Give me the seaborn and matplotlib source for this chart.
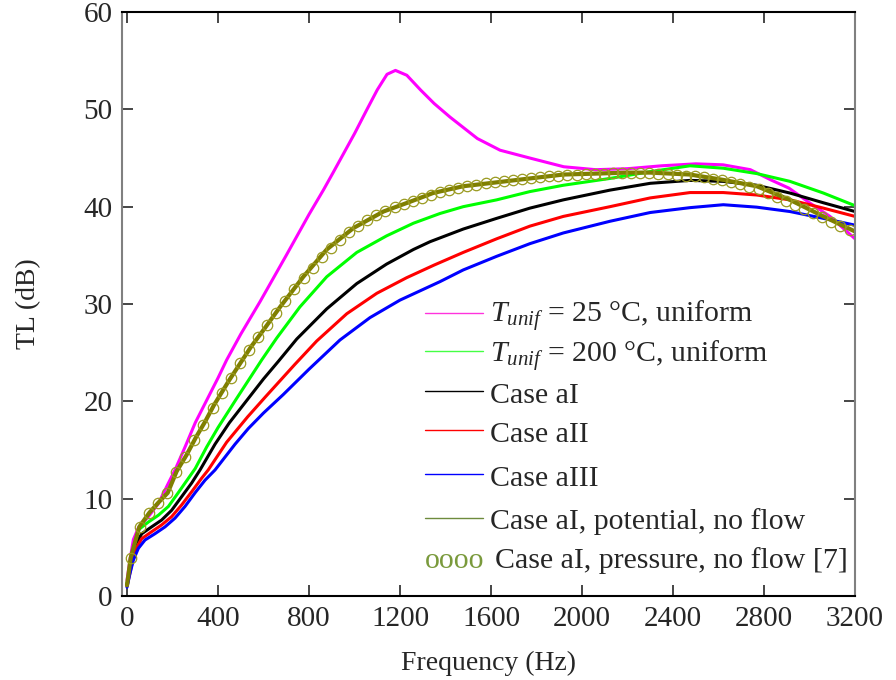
"""Transmission loss vs frequency, several temperature cases."""
import numpy as np
import matplotlib
matplotlib.use('Agg')
import matplotlib.pyplot as plt
import seaborn as sns

# T_unif = 25 C, uniform
PINK_F = [0, 13, 28, 50, 94, 138, 182, 211, 255, 300, 350, 400, 438, 500, 585, 700, 800,
          863, 906, 1000, 1055, 1100, 1143, 1180, 1230, 1290, 1350, 1420, 1540, 1640, 1770,
          1920, 2060, 2200, 2350, 2500, 2620, 2740, 2830, 2910, 3000, 3090, 3200]
PINK_TL = [1.6, 3.7, 5.8, 7.0, 8.15, 9.5, 11.6, 12.95, 15.3, 17.8, 20.1, 22.4, 24.25, 26.9,
           30.25, 35.0, 39.2, 41.7, 43.5, 47.5, 50.0, 52.0, 53.6, 54.0, 53.5, 52.0, 50.6,
           49.2, 47.0, 45.8, 45.0, 44.1, 43.8, 43.9, 44.2, 44.4, 44.3, 43.8, 42.75, 41.9,
           40.4, 39.0, 36.7]

# T_unif = 200 C, uniform
GREEN_F = [0, 20, 50, 94, 138, 182, 225, 270, 300, 350, 400, 482, 592, 658, 760, 878, 1010,
           1141, 1259, 1376, 1478, 1625, 1771, 1918, 2123, 2300, 2475, 2621, 2768, 2914,
           3061, 3200]
GREEN_TL = [1.3, 3.7, 6.8, 7.6, 8.3, 9.2, 10.6, 12.1, 13.1, 15.3, 17.3, 20.3, 24.25, 26.5,
            29.7, 32.8, 35.3, 37.0, 38.3, 39.3, 40.0, 40.7, 41.55, 42.2, 42.9, 43.6, 44.2,
            43.95, 43.4, 42.6, 41.4, 40.1]

# Case aI
BLACK_F = [0, 35, 65, 108, 152, 196, 240, 284, 321, 387, 450, 530, 600, 665, 746, 878, 1010,
           1141, 1259, 1332, 1478, 1625, 1771, 1918, 2123, 2300, 2475, 2621, 2768, 2914,
           3061, 3200]
BLACK_TL = [1.2, 5.2, 6.4, 7.1, 7.8, 8.8, 10.2, 11.6, 12.95, 15.6, 17.8, 20.2, 22.3, 24.1,
            26.4, 29.5, 32.1, 34.1, 35.6, 36.4, 37.7, 38.8, 39.85, 40.7, 41.7, 42.4, 42.7,
            42.6, 42.2, 41.4, 40.4, 39.5]

# Case aII
RED_F = [0, 35, 65, 108, 152, 196, 240, 284, 328, 357, 438, 530, 610, 738, 834, 966, 1098,
         1229, 1350, 1478, 1625, 1771, 1918, 2123, 2300, 2475, 2621, 2768, 2914, 3061, 3200]
RED_TL = [1.0, 4.7, 5.9, 6.6, 7.3, 8.15, 9.35, 10.7, 12.1, 12.95, 15.8, 18.4, 20.5, 23.8,
          26.2, 29.0, 31.1, 32.7, 34.0, 35.3, 36.7, 38.0, 39.0, 40.0, 40.9, 41.45, 41.45,
          41.2, 40.7, 39.85, 39.0]

# Case aIII
BLUE_F = [0, 13, 28, 50, 79, 123, 167, 211, 255, 299, 343, 387, 475, 533, 600, 687, 800, 936,
          1068, 1200, 1376, 1478, 1625, 1771, 1918, 2123, 2300, 2475, 2621, 2768, 2914,
          3061, 3200]
BLUE_TL = [0.9, 2.3, 3.7, 4.9, 5.75, 6.4, 7.1, 8.0, 9.2, 10.6, 11.9, 12.95, 15.6, 17.2, 18.8,
           20.7, 23.3, 26.3, 28.6, 30.4, 32.3, 33.5, 34.9, 36.2, 37.3, 38.5, 39.4, 39.9,
           40.2, 39.95, 39.5, 38.8, 38.1]

# Case aI, potential, no flow
OLIVE_F = [0, 16, 54, 98, 138, 179, 218, 262, 303, 343, 382, 450, 545, 599, 673, 775, 878,
           995, 1127, 1244, 1345, 1478, 1625, 1771, 1918, 2064, 2200, 2300, 2475, 2621,
           2768, 2914, 3061, 3200]
OLIVE_TL = [1.1, 3.9, 7.1, 8.55, 9.6, 10.6, 12.8, 14.5, 16.3, 17.9, 19.6, 22.2, 25.6, 27.3,
            29.7, 32.8, 35.6, 37.8, 39.5, 40.5, 41.4, 42.1, 42.5, 42.9, 43.3, 43.4, 43.5,
            43.5, 43.3, 42.75, 42.1, 40.7, 39.0, 37.45]

# Case aI, pressure, no flow [7] (open circles, every 40 Hz)
PRESS_F = np.arange(16, 3200, 40)
PRESS_TL = [3.9, 7.1, 8.5, 9.6, 10.6, 12.7, 14.3, 16.0, 17.6, 19.3,
            20.9, 22.4, 23.9, 25.3, 26.6, 27.8, 29.1, 30.3, 31.5, 32.7,
            33.7, 34.8, 35.8, 36.6, 37.4, 38.0, 38.6, 39.1, 39.6, 40.0,
            40.3, 40.6, 40.9, 41.2, 41.5, 41.7, 41.9, 42.1, 42.2, 42.4,
            42.5, 42.6, 42.7, 42.8, 42.9, 43.0, 43.1, 43.2, 43.3, 43.3,
            43.4, 43.4, 43.4, 43.5, 43.5, 43.5, 43.5, 43.5, 43.4, 43.4,
            43.3, 43.2, 43.1, 43.0, 42.8, 42.7, 42.5, 42.3, 42.0, 41.8,
            41.4, 41.0, 40.6, 40.2, 39.8, 39.3, 38.9, 38.4, 38.0, 37.6]

LABELS = [r'$T_{unif}$ = 25 °C, uniform', r'$T_{unif}$ = 200 °C, uniform', 'Case aI',
          'Case aII', 'Case aIII', 'Case aI, potential, no flow']
COLORS = ['#ff00ff', '#00ff00', 'black', '#ff0000', '#0000ff', '#7f7f00']
HANDLE_COLORS = ['#ff33dd', '#44ff44', 'black', '#ff0000', '#0000ff', '#6e8b3d']
WIDTHS = [2.2, 2.2, 2.2, 2.2, 2.2, 3.0]

# legend rows in pixels: line height and text baseline
ROW_LINE_Y = [313, 351, 391, 430, 474, 518]
ROW_BASE_Y = [323, 363, 403, 442, 486, 529]

W, H = 896, 680

sns.set_style('ticks')
plt.rcParams['font.family'] = ['Liberation Serif', 'DejaVu Serif']
plt.rcParams['mathtext.fontset'] = 'custom'
plt.rcParams['mathtext.it'] = 'Liberation Serif:italic'
plt.rcParams['mathtext.rm'] = 'Liberation Serif'

fig = plt.figure(figsize=(W / 100, H / 100), dpi=100)
ax = fig.add_axes([122 / W, 84 / H, 733 / W, 584 / H])

series = [(PINK_F, PINK_TL), (GREEN_F, GREEN_TL), (BLACK_F, BLACK_TL),
          (RED_F, RED_TL), (BLUE_F, BLUE_TL), (OLIVE_F, OLIVE_TL)]
for (f, tl), col, lw in zip(series, COLORS, WIDTHS):
    sns.lineplot(x=f, y=tl, color=col, lw=lw, estimator=None, sort=False,
                 legend=False, ax=ax)

sns.lineplot(x=PRESS_F, y=PRESS_TL, color='#9a9a20', ls='', marker='o', ms=7.5,
             mfc='none', mec='#9a9a20', mew=0.9, estimator=None, legend=False, ax=ax)

ax.set_xlim(-22, 3200)
ax.set_ylim(0, 60)
ax.set_xticks(np.arange(0, 3201, 400))
ax.set_yticks(np.arange(0, 61, 10))
ax.tick_params(direction='in', length=8, width=1.2, top=True, right=True,
               labelsize=21, pad=7)
ax.set_xlabel('Frequency (Hz)', fontsize=20, labelpad=14)
ax.set_ylabel('TL (dB)', fontsize=20, labelpad=30)
for side in ['left', 'right']:
    ax.spines[side].set_color('#808080')
    ax.spines[side].set_linewidth(1.5)
for side in ['top', 'bottom']:
    ax.spines[side].set_color('black')
    ax.spines[side].set_linewidth(1.5)

# hand-placed legend to follow the original row spacing
for lab, col, ly, by in zip(LABELS, HANDLE_COLORS, ROW_LINE_Y, ROW_BASE_Y):
    fig.add_artist(plt.Line2D([425 / W, 483 / W], [1 - ly / H, 1 - ly / H],
                              color=col, lw=1.0, transform=fig.transFigure))
    fig.text(490 / W, 1 - by / H, lab, fontsize=21.5, va='baseline')

fig.text(425 / W, 1 - 568 / H, 'oooo', color='#7a9a3c', fontsize=21.5, va='baseline')
fig.text(495 / W, 1 - 568 / H, 'Case aI, pressure, no flow [7]', fontsize=21.5,
         va='baseline')

fig.savefig('out.png', dpi=100)
